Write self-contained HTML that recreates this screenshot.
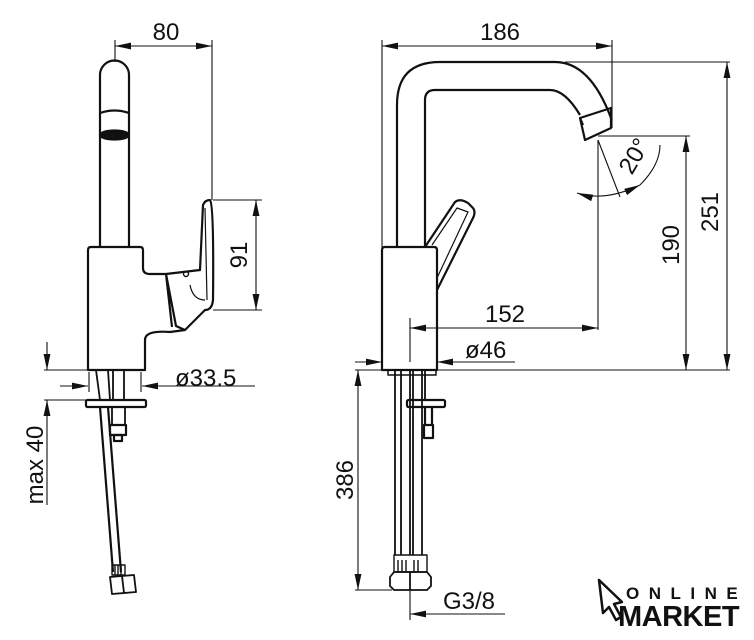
<!DOCTYPE html>
<html><head><meta charset="utf-8"><style>
html,body{margin:0;padding:0;background:#fff;}
svg{display:block;}
text{font-family:"Liberation Sans",sans-serif;fill:#111;}
</style></head><body>
<svg width="754" height="640" viewBox="0 0 754 640" xmlns="http://www.w3.org/2000/svg">
<defs>
<marker id="a" viewBox="0 0 14 6" refX="14" refY="3" markerWidth="16" markerHeight="7" orient="auto-start-reverse" markerUnits="userSpaceOnUse"><path d="M0,0L14,3L0,6z" fill="#111"/></marker>
</defs>
<g fill="none" stroke="#111" stroke-width="2.2" stroke-linejoin="round">
<path d="M100,247 V75 A14.5,14.5 0 0 1 129,75 V247"/>
<path d="M100,113 Q114.5,108 129,113"/>
<ellipse cx="114.5" cy="135" rx="14.5" ry="4.5" fill="#111"/>
<path d="M88,370 V250 Q88,247 91,247 H140 Q143,247 143,250 V268 Q143,274 150,274 H166 L200,270 L203,205 Q205,200 210,200 Q214,205 213,300 Q212,310 205,310 L185,330 L170,332 Q145,330 145,340 V370 Z"/>
<path d="M166,274 L172,327 M166,274 L176,326 L185,330"/>
<path d="M205,208 L207,300" stroke-width="1.2"/>
<path d="M190,285 Q193,300 205,300" stroke-width="1.2"/>
<circle cx="186" cy="274" r="2.5" stroke-width="1.4"/>
<path d="M96,370 L100,400 M108,370 L110,400 M113,370 V400 M124,370 V400" stroke-width="1.8"/>
<rect x="86" y="400" width="60" height="7" rx="1.5"/>
<path d="M100,407 L113,572 M108,407 L121,572"/>
<path d="M112,407 V425 M125,407 V425" stroke-width="1.8"/>
<rect x="110" y="425" width="16" height="10"/><rect x="114" y="435" width="8" height="6"/>
<path d="M112,565 H125 V575 H112 Z M115,565 V575 M118,565 V575 M121,565 V575" stroke-width="1.4"/>
<path d="M110,577 L134,575 L136,592 L112,594 Z M122,576 L124,593" stroke-width="1.8"/>
<g stroke-width="1.1">
<path d="M115,40 V62 M212,40 V200"/>
<line x1="115" y1="46" x2="212" y2="46" marker-start="url(#a)" marker-end="url(#a)"/>
<path d="M213,200 H262 M213,310 H262"/>
<line x1="256" y1="200" x2="256" y2="310" marker-start="url(#a)" marker-end="url(#a)"/>
<path d="M44,370 H88 M44,400 H88"/>
<line x1="47" y1="342" x2="47" y2="370" marker-end="url(#a)"/>
<line x1="47" y1="505" x2="47" y2="400" marker-end="url(#a)"/>
<line x1="60" y1="386" x2="88" y2="386" marker-end="url(#a)"/>
<line x1="255" y1="386" x2="142" y2="386" marker-end="url(#a)"/>
<path d="M89,372 V392 M141,372 V392"/>
</g>
<path d="M397,247 V105 Q397,62 440,62 H555 Q590,62 611,118"/>
<path d="M425,247 V100 Q425,90 435,90 H550 Q565,90 580,115"/>
<path d="M580,118 L611,108 L611,128 L585,140 Z M580,118 L583,125"/>
<path d="M382,370 V250 Q382,247 385,247 H434 Q437,247 437,250 V370 Z"/>
<path d="M425,247 L455,202 Q460,198 468,203 L473,208 Q476,212 473,218 L437,290"/>
<path d="M432,245 L457,208 L468,212 L437,278" stroke-width="1.2"/>
<path d="M395,370 V555 M401,370 V555 M410,370 V555 M413,370 V555 M422,370 V555 M425,370 V400" stroke-width="1.8"/>
<rect x="388" y="370" width="48" height="5" stroke-width="1.5"/>
<rect x="407" y="400" width="38" height="7" rx="1.5"/>
<path d="M425,407 V425 M432,407 V425 M424,425 H433 V438 H424 Z"/>
<path d="M394,555 H427 V572 H394 Z M398,560 V572 M402,560 V572 M406,560 V572 M414,560 V572 M418,560 V572" stroke-width="1.4"/>
<path d="M390,577 L394,572 H427 L431,577 V586 L427,590 H394 L390,586 Z M410,572 V590" stroke-width="1.8"/>
<g stroke-width="1.1">
<path d="M382,40 V355 M612,40 V128"/>
<line x1="382" y1="46" x2="612" y2="46" marker-start="url(#a)" marker-end="url(#a)"/>
<path d="M565,62 H730 M598,136 H690"/>
<line x1="727" y1="62" x2="727" y2="370" marker-start="url(#a)" marker-end="url(#a)"/>
<line x1="686" y1="136" x2="686" y2="370" marker-start="url(#a)" marker-end="url(#a)"/>
<path d="M598,140 V330 M598,140 L620,197"/>
<path d="M577,193 Q605,202 640,185" marker-start="url(#a)" marker-end="url(#a)"/>
<path d="M640,185 Q660,165 660,145"/>
<path d="M410,318 V362"/>
<line x1="410" y1="328" x2="598" y2="328" marker-start="url(#a)" marker-end="url(#a)"/>
<line x1="355" y1="362" x2="382" y2="362" marker-end="url(#a)"/>
<line x1="515" y1="362" x2="437" y2="362" marker-end="url(#a)"/>
<path d="M437,370 H730 M355,370 H382 M355,590 H392"/>
<line x1="358" y1="370" x2="358" y2="590" marker-start="url(#a)" marker-end="url(#a)"/>
<path d="M410,590 V620"/>
<line x1="505" y1="614" x2="410" y2="614" marker-end="url(#a)"/>
</g>
</g>
<g font-size="24">
<text x="166" y="40" text-anchor="middle">80</text>
<text transform="translate(247,255) rotate(-90)" text-anchor="middle">91</text>
<text transform="translate(43,465) rotate(-90)" text-anchor="middle">max 40</text>
<text x="175" y="386">ø33.5</text>
<text x="500" y="40" text-anchor="middle">186</text>
<text transform="translate(718,212) rotate(-90)" text-anchor="middle">251</text>
<text transform="translate(679,245) rotate(-90)" text-anchor="middle">190</text>
<text transform="translate(641,160) rotate(-60)" text-anchor="middle">20°</text>
<text x="505" y="322" text-anchor="middle">152</text>
<text x="465" y="358">ø46</text>
<text transform="translate(353,480) rotate(-90)" text-anchor="middle">386</text>
<text x="443" y="609">G3/8</text>
</g>
<path d="M599,580 L622,602 L614,604 L621,617 L616,620 L609,607 L603,613 Z" fill="none" stroke="#111" stroke-width="2.5" stroke-linejoin="round"/>
<text x="626" y="599" font-size="17" font-weight="bold" letter-spacing="9.5">ONLINE</text>
<text x="618" y="626" font-size="29" font-weight="bold" letter-spacing="-0.5">MARKET</text>
</svg>
</body></html>
